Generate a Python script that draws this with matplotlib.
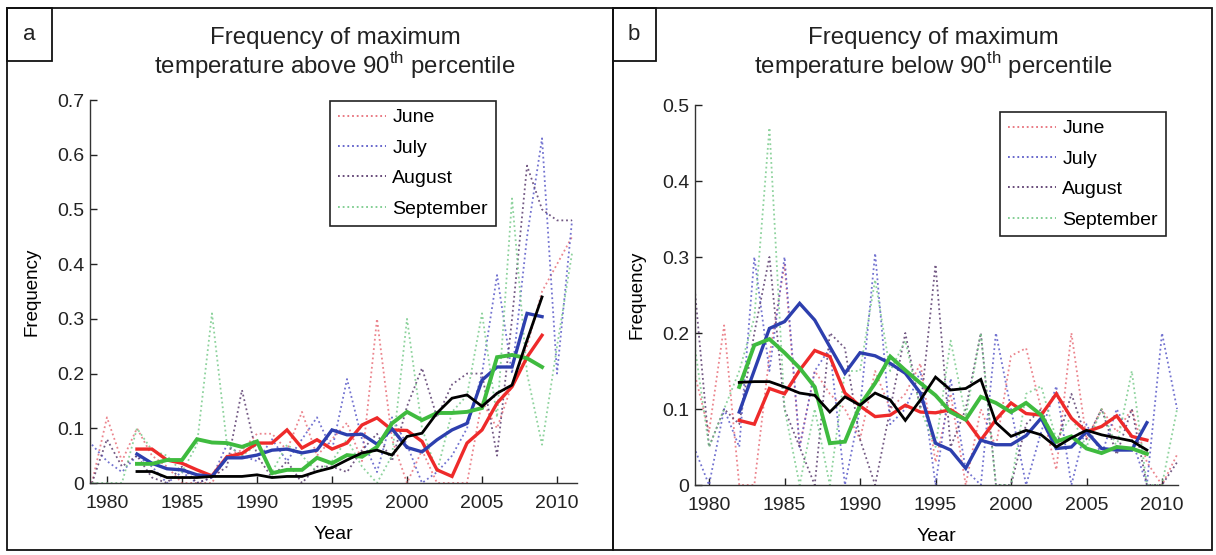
import matplotlib
matplotlib.use("Agg")
import matplotlib.pyplot as plt
from matplotlib.lines import Line2D
from matplotlib.patches import Rectangle

plt.rcParams['font.family'] = ['Liberation Sans', 'DejaVu Sans']
plt.rcParams['mathtext.fontset'] = 'custom'
plt.rcParams['mathtext.rm'] = 'Liberation Sans'

# ---------------- data ----------------
years_raw = list(range(1979, 2012))
years_smooth = list(range(1982, 2010))
months = ["June", "July", "August", "September"]

# Panel a: above 90th percentile (raw annual values)
a_june = [0.0, 0.12, 0.04, 0.10, 0.05, 0.03, 0.0, 0.0, 0.0, 0.05, 0.06, 0.09, 0.09, 0.06,
          0.13, 0.05, 0.08, 0.11, 0.04, 0.30, 0.08, 0.0, 0.06, 0.0, 0.0, 0.0, 0.15, 0.10,
          0.18, 0.25, 0.35, 0.40, 0.45]
a_july = [0.07, 0.04, 0.02, 0.05, 0.03, 0.0, 0.02, 0.0, 0.01, 0.07, 0.05, 0.04, 0.08, 0.04,
          0.08, 0.12, 0.06, 0.19, 0.08, 0.02, 0.12, 0.07, 0.0, 0.02, 0.05, 0.10, 0.20, 0.38,
          0.20, 0.45, 0.63, 0.20, 0.48]
a_aug = [0.0, 0.08, 0.03, 0.05, 0.01, 0.0, 0.03, 0.0, 0.01, 0.03, 0.17, 0.05, 0.01, 0.04,
         0.0, 0.03, 0.03, 0.02, 0.06, 0.09, 0.04, 0.14, 0.21, 0.12, 0.18, 0.20, 0.20, 0.05,
         0.30, 0.58, 0.50, 0.48, 0.48]
a_sep = [0.0, 0.0, 0.0, 0.10, 0.06, 0.05, 0.02, 0.07, 0.31, 0.07, 0.05, 0.07, 0.02, 0.07,
         0.05, 0.02, 0.04, 0.08, 0.03, 0.0, 0.05, 0.30, 0.10, 0.02, 0.13, 0.16, 0.31, 0.12,
         0.52, 0.20, 0.07, 0.25, 0.42]
# Panel a: smoothed series
a_june_s = [0.062, 0.062, 0.042, 0.036, 0.024, 0.013, 0.048, 0.054, 0.073, 0.073, 0.097, 0.064,
            0.079, 0.062, 0.073, 0.106, 0.119, 0.097, 0.096, 0.076, 0.024, 0.012, 0.073, 0.097,
            0.146, 0.176, 0.230, 0.270]
a_july_s = [0.053, 0.036, 0.026, 0.024, 0.015, 0.012, 0.046, 0.046, 0.051, 0.060, 0.062, 0.055,
            0.060, 0.097, 0.088, 0.089, 0.071, 0.099, 0.065, 0.057, 0.079, 0.097, 0.109, 0.188,
            0.212, 0.212, 0.310, 0.304]
a_sep_s = [0.035, 0.035, 0.042, 0.042, 0.080, 0.074, 0.073, 0.066, 0.076, 0.018, 0.024, 0.024,
           0.046, 0.036, 0.051, 0.048, 0.066, 0.109, 0.130, 0.115, 0.128, 0.128, 0.130, 0.137,
           0.230, 0.234, 0.228, 0.212]
a_all_s = [0.021, 0.021, 0.010, 0.010, 0.010, 0.012, 0.012, 0.012, 0.015, 0.010, 0.012, 0.012,
           0.021, 0.028, 0.042, 0.055, 0.060, 0.051, 0.085, 0.091, 0.128, 0.155, 0.161, 0.140,
           0.164, 0.179, 0.261, 0.340]

# Panel b: below 90th percentile (raw annual values)
b_june = [0.15, 0.07, 0.21, 0.0, 0.0, 0.17, 0.29, 0.05, 0.15, 0.12, 0.10, 0.06, 0.15, 0.10,
          0.12, 0.16, 0.03, 0.12, 0.0, 0.10, 0.05, 0.17, 0.18, 0.10, 0.02, 0.20, 0.06, 0.10,
          0.07, 0.10, 0.03, 0.0, 0.04]
b_july = [0.05, 0.0, 0.10, 0.05, 0.30, 0.15, 0.30, 0.05, 0.15, 0.18, 0.0, 0.10, 0.305, 0.08,
          0.10, 0.15, 0.0, 0.14, 0.02, 0.0, 0.20, 0.10, 0.0, 0.07, 0.13, 0.0, 0.08, 0.04,
          0.10, 0.06, 0.0, 0.20, 0.10]
b_aug = [0.27, 0.05, 0.10, 0.08, 0.20, 0.30, 0.10, 0.05, 0.0, 0.20, 0.18, 0.06, 0.0, 0.10,
         0.20, 0.10, 0.29, 0.05, 0.10, 0.20, 0.0, 0.0, 0.08, 0.10, 0.05, 0.12, 0.06, 0.10,
         0.04, 0.10, 0.0, 0.0, 0.03]
b_sep = [0.19, 0.05, 0.10, 0.15, 0.22, 0.47, 0.10, 0.0, 0.10, 0.0, 0.15, 0.15, 0.27, 0.15,
         0.19, 0.10, 0.05, 0.19, 0.09, 0.20, 0.0, 0.0, 0.12, 0.13, 0.06, 0.09, 0.05, 0.10,
         0.05, 0.15, 0.0, 0.0, 0.10]
# Panel b: smoothed series
b_june_s = [0.085, 0.080, 0.127, 0.120, 0.151, 0.177, 0.169, 0.121, 0.104, 0.090, 0.092, 0.105,
            0.096, 0.095, 0.099, 0.086, 0.059, 0.086, 0.108, 0.094, 0.092, 0.120, 0.088, 0.070,
            0.077, 0.091, 0.064, 0.059]
b_july_s = [0.096, 0.151, 0.206, 0.215, 0.239, 0.217, 0.182, 0.147, 0.174, 0.170, 0.160, 0.147,
            0.121, 0.055, 0.046, 0.022, 0.059, 0.053, 0.053, 0.065, 0.088, 0.048, 0.050, 0.070,
            0.048, 0.046, 0.046, 0.082]
b_sep_s = [0.129, 0.184, 0.192, 0.174, 0.154, 0.129, 0.055, 0.057, 0.105, 0.134, 0.169, 0.151,
           0.134, 0.118, 0.096, 0.086, 0.116, 0.108, 0.096, 0.108, 0.092, 0.057, 0.064, 0.048,
           0.042, 0.050, 0.048, 0.041]
b_all_s = [0.135, 0.136, 0.136, 0.129, 0.121, 0.118, 0.096, 0.116, 0.105, 0.121, 0.112, 0.085,
           0.112, 0.142, 0.125, 0.127, 0.139, 0.082, 0.064, 0.072, 0.066, 0.050, 0.062, 0.072,
           0.066, 0.062, 0.058, 0.046]

x_ticks = [1980, 1985, 1990, 1995, 2000, 2005, 2010]

# ---------------- style ----------------
dot_colors = ["#e8707a", "#5a5ac8", "#5a3c6e", "#7acb8c"]
solid_colors = ["#ee2a2a", "#2d3fae", "#3fbb3f", "#000000"]
solid_lw = [2.4, 2.4, 2.8, 2.0]

W, H = 1216, 555
fig = plt.figure(figsize=(W / 100, H / 100), dpi=100)


def fx(px):
    return px / W


def fy(py):
    return 1 - py / H


def make_panel(rect, raw, smooth, xlim, ylim, yticks, leg_rect):
    ax = fig.add_axes(rect)
    for vals, c in zip(raw, dot_colors):
        ax.plot(years_raw, vals, linestyle=(0, (1, 1.6)), color=c, lw=1.3, alpha=0.85,
                clip_on=True)
    for vals, c, lw in zip(smooth, solid_colors, solid_lw):
        ax.plot(years_smooth, vals, color=c, lw=lw, solid_joinstyle='miter')
    ax.set_xlim(*xlim)
    ax.set_ylim(*ylim)
    ax.set_xticks(x_ticks)
    ax.set_yticks(yticks)
    ax.set_yticklabels([("0" if t == 0 else f"{t:g}") for t in yticks])
    ax.spines['top'].set_visible(False)
    ax.spines['right'].set_visible(False)
    for s in ('left', 'bottom'):
        ax.spines[s].set_linewidth(1.0)
        ax.spines[s].set_color('#333333')
    ax.tick_params(direction='in', length=5, width=1, labelsize=14, colors='#222222')
    ax.tick_params(axis='y', pad=4)
    ax.tick_params(axis='x', pad=9)
    ax.set_xlabel("Year", fontsize=14, labelpad=10)
    ax.set_ylabel("Frequency", fontsize=13.5, labelpad=12)
    handles = [Line2D([0], [0], linestyle=(0, (1, 1.6)), color=c, lw=1.3) for c in dot_colors]
    lx0, ly0, lx1, ly1 = leg_rect
    leg = ax.legend(handles, months, loc='upper left',
                    bbox_to_anchor=(fx(lx0), fy(ly0)), bbox_transform=fig.transFigure,
                    fancybox=False, edgecolor='#222222', fontsize=14,
                    handlelength=2.5, handletextpad=0.3, borderpad=0.4,
                    labelspacing=0.66, borderaxespad=0, framealpha=1)
    leg.get_frame().set_linewidth(1.2)
    return ax


# panel a axes: x 90..577 px, y 100..483 px
make_panel([fx(90), fy(483), (577 - 90) / W, (483 - 100) / H],
           [a_june, a_july, a_aug, a_sep], [a_june_s, a_july_s, a_sep_s, a_all_s],
           (1978.87, 2011.33), (0, 0.7), [0, 0.1, 0.2, 0.3, 0.4, 0.5, 0.6, 0.7],
           (330, 101, 502, 223))
# panel b axes: x 695..1178 px, y 105..485 px
make_panel([fx(695), fy(485), (1178 - 695) / W, (485 - 105) / H],
           [b_june, b_july, b_aug, b_sep], [b_june_s, b_july_s, b_sep_s, b_all_s],
           (1979.07, 2011.06), (0, 0.5), [0, 0.1, 0.2, 0.3, 0.4, 0.5],
           (1000, 112, 1173, 233))

# titles
for cx, word in ((335, "above"), (933, "below")):
    fig.text(fx(cx), fy(38), "Frequency of maximum", ha='center', va='center',
             fontsize=17.3, color='#222222')
    fig.text(fx(cx), fy(66), f"temperature {word} 90$^{{\\mathrm{{th}}}}$ percentile",
             ha='center', va='center', fontsize=17.3, color='#222222')

# borders
def frect(x0, y0, x1, y1, lw=1.3):
    fig.patches.append(Rectangle((fx(x0), fy(y1)), fx(x1) - fx(x0), fy(y0) - fy(y1),
                                 transform=fig.transFigure, fill=False,
                                 edgecolor='#111111', lw=lw))

frect(7, 8, 613, 550)
frect(613, 8, 1212, 550)
frect(7, 8, 52, 61)
frect(613, 8, 656, 61)
fig.text(fx(29), fy(34), "a", ha='center', va='center', fontsize=16, color='#222222')
fig.text(fx(634), fy(34), "b", ha='center', va='center', fontsize=16, color='#222222')

fig.savefig("out.png", dpi=100)
